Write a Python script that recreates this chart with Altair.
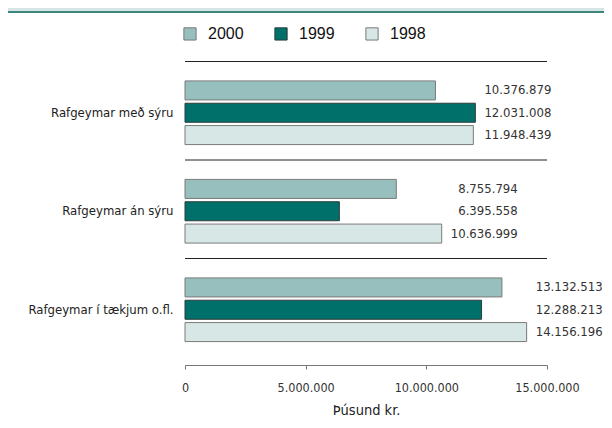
import altair as alt
import pandas as pd

groups = ["Rafgeymar með sýru", "Rafgeymar án sýru", "Rafgeymar í tækjum o.fl."]
years = ["2000", "1999", "1998"]
v2000 = [10376879, 8755794, 13132513]
v1999 = [12031008, 6395558, 12288213]
v1998 = [11948439, 10636999, 14156196]
colors = ["#97bfbd", "#00706a", "#d7e7e6"]
strokes = ["#7a7a7a", "#2c3c3a", "#7a7a7a"]
ticks = [0, 5000000, 10000000, 15000000]

rows = []
for yr, vals in zip(years, [v2000, v1999, v1998]):
    for g, v in zip(groups, vals):
        rows.append({"group": g, "year": yr, "value": v})
df = pd.DataFrame(rows)
gdf = pd.DataFrame({"group": groups})
deco = pd.DataFrame({"k": [0]})

FONT = "DejaVu Sans Condensed, Liberation Sans Narrow, DejaVu Sans, sans-serif"
W, H = 362, 295.5
PT = 55.5
TOTW, TOTH = 596, 412

xscale = alt.Scale(domain=[0, 15000000], nice=False, zero=True)
yenc = alt.Y("group:N", sort=groups, scale=alt.Scale(paddingInner=0, paddingOuter=0),
             axis=alt.Axis(title=None, domain=False, ticks=False, labelPadding=12,
                           labelFont=FONT, labelFontSize=13, labelColor="#222"))
yoff = alt.YOffset("year:N", sort=years, scale=alt.Scale(paddingInner=0.148, paddingOuter=0.78))

base = alt.Chart(df)

bars = base.mark_bar(strokeWidth=1).encode(
    x=alt.X("value:Q", scale=xscale,
            axis=alt.Axis(values=ticks, grid=False, offset=6, tickSize=4,
                          domainColor="#777", tickColor="#777", domainWidth=1,
                          labelFlush=False,
                          labelExpr="replace(format(datum.value, ',d'), /,/g, '.')",
                          labelFont=FONT, labelFontSize=12.5, labelColor="#333",
                          labelPadding=12, title="Þúsund kr.", titleFont=FONT,
                          titleFontSize=14.5, titleFontWeight="normal", titleColor="#222",
                          titlePadding=10)),
    y=yenc,
    yOffset=yoff,
    color=alt.Color("year:N", sort=years, scale=alt.Scale(domain=years, range=colors),
                    legend=alt.Legend(title=None, orient="none", direction="horizontal",
                                      legendX=-3, legendY=-38, symbolType="square",
                                      symbolSize=150, symbolStrokeColor="#555",
                                      symbolStrokeWidth=1, labelFont="Liberation Sans",
                                      labelFontSize=16, labelColor="#111",
                                      labelOffset=10, columnPadding=28, padding=0)),
    stroke=alt.Stroke("year:N", sort=years, scale=alt.Scale(domain=years, range=strokes),
                      legend=None),
)

labels = base.transform_joinaggregate(
    gmax="max(value)", groupby=["group"]
).transform_calculate(
    lx="datum.gmax + 3150000",
    txt="replace(format(datum.value, ',d'), /,/g, '.')",
).mark_text(align="right", baseline="middle", font=FONT, fontSize=13, color="#333").encode(
    x=alt.X("lx:Q", scale=xscale),
    y=yenc,
    yOffset=yoff,
    text="txt:N",
)

seps = alt.Chart(gdf).mark_rule(color="#222", strokeWidth=1, yOffset=-2).encode(
    y=alt.Y("group:N", sort=groups, bandPosition=0),
    x=alt.value(0),
    x2=alt.value(W),
)

band = alt.Chart(deco).mark_rect(color="#d6e6e6").encode(
    x=alt.value(-177), x2=alt.value(TOTW - 177), y=alt.value(-PT), y2=alt.value(-PT + 3))
bandline = alt.Chart(deco).mark_rect(color="#3b877e").encode(
    x=alt.value(-177), x2=alt.value(TOTW - 177), y=alt.value(-PT + 3), y2=alt.value(-PT + 5))

chart = alt.layer(band, bandline, seps, bars, labels).properties(
    width=W, height=H,
    autosize=alt.AutoSizeParams(type="none"),
    padding={"left": 177, "top": PT, "right": TOTW - 177 - W, "bottom": TOTH - PT - H},
).configure_view(stroke=None)

chart.save("out.html", embed_options={"renderer": "svg", "actions": False})
